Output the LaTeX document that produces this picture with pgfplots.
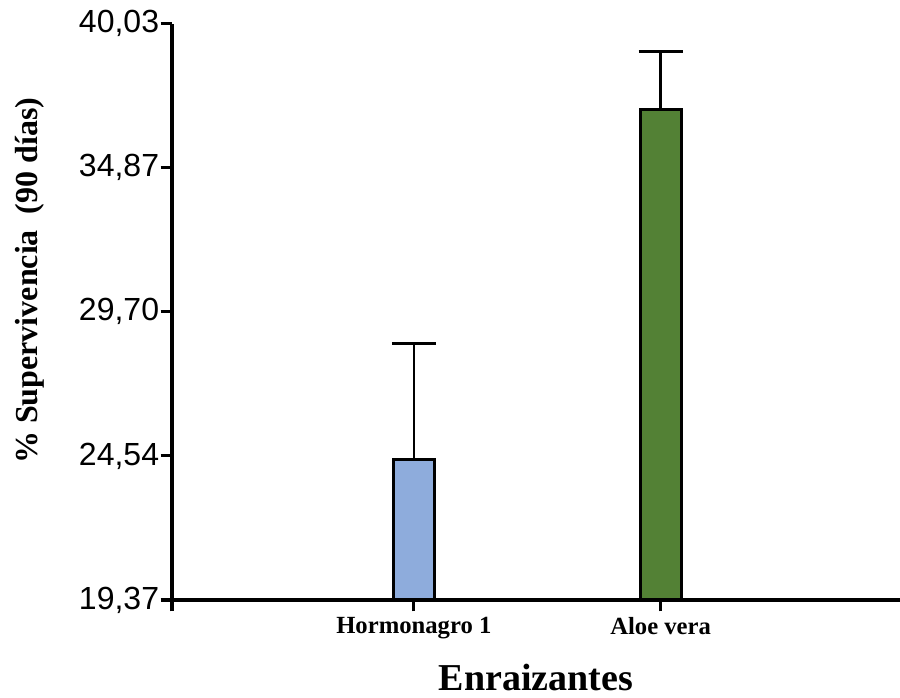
\documentclass[border=0pt]{standalone}
\usepackage{pgfplots}
\pgfplotsset{compat=1.18}
\usepackage{fontspec}
\setmainfont{Liberation Serif}
\newfontfamily\arial{Liberation Sans}
\usetikzlibrary{calc}
\definecolor{barblue}{HTML}{8EACDC}
\definecolor{bargreen}{HTML}{538135}
\begin{document}
\begin{tikzpicture}
\begin{axis}[
  width=546pt, height=432.3pt, scale only axis,
  xmin=0.02, xmax=2.97, ymin=19.37, ymax=40.03,
  axis x line*=bottom, axis y line*=left,
  axis line style={-, line width=2.4pt},
  every tick/.style={black, line width=2.4pt},
  major tick length=8.5pt, tick align=outside,
  xtick={1,2}, xticklabels={Hormonagro 1, Aloe vera},
  xticklabel style={font=\bfseries\fontsize{18.5}{20}\selectfont, yshift=-1pt},
  extra x ticks={0.02}, extra x tick labels={},
  ytick={19.37,24.535,29.70,34.865,40.03},
  yticklabels={{19,37},{24,54},{29,70},{34,87},{40,03}},
  yticklabel style={font=\arial\fontsize{24}{24}\selectfont, inner sep=1pt},
  /pgf/number format/assume math mode=true,
  ylabel={\% Supervivencia\ \ (90 días)},
  ylabel style={font=\bfseries\fontsize{24}{26}\selectfont, at={(axis description cs:-0.195,0.554)}, anchor=center},
  xlabel={Enraizantes},
  xlabel style={font=\bfseries\fontsize{28.5}{30}\selectfont, at={(axis description cs:0.5,-0.135)}, anchor=center},
  ybar, bar width=30.75pt, bar shift=0pt,
  clip=false,
]
\addplot[fill=barblue, draw=black, line width=2.4pt,
  error bars/.cd, y dir=plus, y explicit,
  error bar style={line width=2pt, black},
  error mark options={rotate=90, mark size=16.5pt, line width=2.2pt, black}]
  coordinates {(1,24.41) +- (0,4.15)};
\addplot[fill=bargreen, draw=black, line width=2.4pt,
  error bars/.cd, y dir=plus, y explicit,
  error bar style={line width=2pt, black},
  error mark options={rotate=90, mark size=16.5pt, line width=2.2pt, black}]
  coordinates {(2,36.96) +- (0,2.06)};
\coordinate (BL) at (rel axis cs:0,0);
\coordinate (TR) at (rel axis cs:1,1);
\end{axis}
\pgfresetboundingbox
\path[use as bounding box] ($(BL)+(-129pt,-73.5pt)$) rectangle ($(TR)+(0pt,17.7pt)$);
\end{tikzpicture}
\end{document}
